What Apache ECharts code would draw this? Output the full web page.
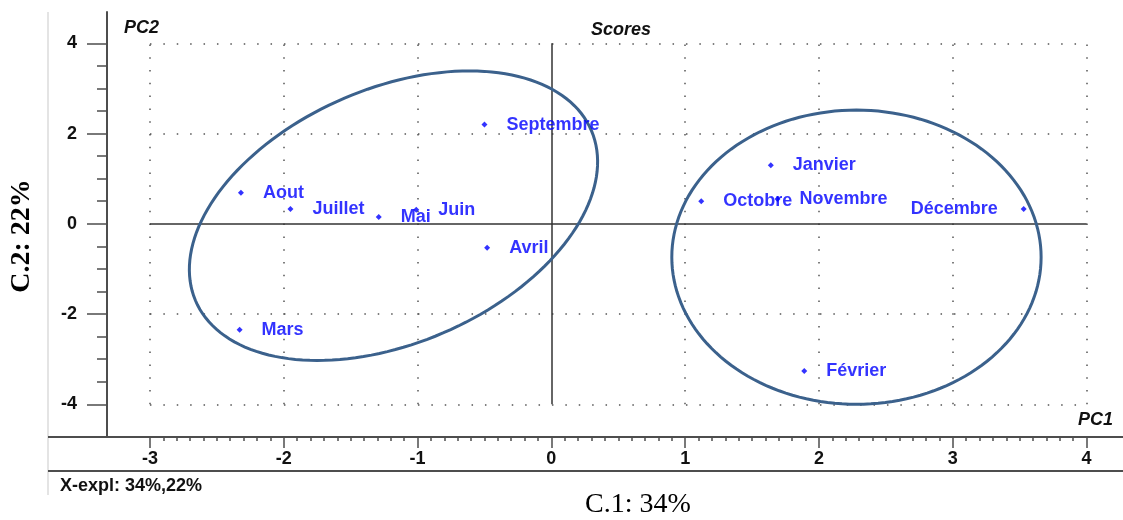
<!DOCTYPE html>
<html>
<head>
<meta charset="utf-8">
<script src="https://cdn.jsdelivr.net/npm/echarts@6/dist/echarts.min.js"></script>
<style>
  html, body { margin: 0; padding: 0; background: #fff; }
  #scoresChart { width: 1123px; height: 520px; }
</style>
</head>
<body>
<div id="scoresChart"></div>
<script>
// Scores des mois sur PC1 / PC2
const months = ['Janvier', 'Février', 'Mars', 'Avril', 'Mai', 'Juin', 'Juillet', 'Aout', 'Septembre', 'Octobre', 'Novembre', 'Décembre'];
const pc1Scores = [1.64, 1.89, -2.33, -0.48, -1.29, -1.01, -1.95, -2.32, -0.50, 1.12, 1.69, 3.53];
const pc2Scores = [1.30, -3.26, -2.35, -0.53, 0.15, 0.31, 0.33, 0.69, 2.20, 0.50, 0.55, 0.33];
const labelSides = ['right', 'right', 'right', 'right', 'right', 'right', 'right', 'right', 'right', 'right', 'right', 'left'];

// axes
const xTickLabels = [-3, -2, -1, 0, 1, 2, 3, 4];
const yTickLabels = [-4, -2, 0, 2, 4];
const yMinorTicks = [-3.5, -3, -2.5, -1.5, -1, -0.5, 0.5, 1, 1.5, 2.5, 3, 3.5];
const xRange = [-3.321, 4.272];
const yRange = [-4.725, 4.694];

// grille pointillée
const gridXLines = [-3, -2, -1, 1, 2, 3, 4];
const gridYLines = [-4, -2, 2, 4];
const gridExtentX = [-3, 4];
const gridExtentY = [-4, 4];

// ellipses de regroupement (centre + demi-axes, unités des scores)
const ellipseCentres = [[-1.18, 0.18], [2.28, -0.74]];
const ellipseAxisU = [[1.48, 1.88], [1.38, 0]];
const ellipseAxisV = [[0.37, -2.60], [0, 3.26]];

const sansFont = '"Liberation Sans", Arial, sans-serif';
const serifFont = '"Liberation Serif", "Times New Roman", serif';
const axisColor = '#4d4d4d';

// ticks secondaires tous les 0.1 sur PC1
const xMinorTicks = [];
for (let i = -29; i <= 39; i++) {
  if (i % 10 !== 0) xMinorTicks.push(i / 10);
}

const chart = echarts.init(document.getElementById('scoresChart'));

const dottedH = { color: '#555', width: 1.5, type: [1.5, 11.9] };
const dottedV = { color: '#555', width: 1.5, type: [1.5, 11.3] };
const solid = { color: '#333', width: 1.5, type: 'solid' };

const gridLineData = [];
gridXLines.forEach((x) => {
  gridLineData.push([{ coord: [x, gridExtentY[0]], lineStyle: dottedV }, { coord: [x, gridExtentY[1]] }]);
});
gridYLines.forEach((y) => {
  gridLineData.push([{ coord: [gridExtentX[0], y], lineStyle: dottedH }, { coord: [gridExtentX[1], y] }]);
});
gridLineData.push([{ coord: [0, gridExtentY[0]], lineStyle: solid }, { coord: [0, gridExtentY[1]] }]);
gridLineData.push([{ coord: [gridExtentX[0], 0], lineStyle: solid }, { coord: [gridExtentX[1], 0] }]);

const scoreData = months.map((name, i) => ({
  name,
  value: [pc1Scores[i], pc2Scores[i]],
  label: { position: labelSides[i], distance: labelSides[i] === 'left' ? 23 : 19 },
}));

const labelStyle = { fontFamily: sansFont, fontWeight: 'bold', fontSize: 18, color: '#111' };

chart.setOption({
  animation: false,
  backgroundColor: '#fff',
  title: {
    text: 'Scores',
    left: 586,
    top: 16,
    textStyle: { fontFamily: sansFont, fontStyle: 'italic', fontWeight: 'bold', fontSize: 18, color: '#111' },
  },
  grid: { left: 107, right: 0, top: 12, bottom: 83 },
  xAxis: [
    {
      type: 'value', min: xRange[0], max: xRange[1], position: 'bottom',
      axisLine: { show: true, onZero: false, lineStyle: { color: axisColor, width: 2 } },
      axisTick: { show: true, customValues: xTickLabels, length: 11, lineStyle: { color: axisColor, width: 1.5 } },
      axisLabel: Object.assign({ customValues: xTickLabels, margin: 13 }, labelStyle),
      splitLine: { show: false },
    },
    {
      type: 'value', min: xRange[0], max: xRange[1], position: 'bottom',
      axisLine: { show: false, onZero: false },
      axisTick: { show: true, customValues: xMinorTicks, length: 4, lineStyle: { color: axisColor, width: 1.5 } },
      axisLabel: { show: false },
      splitLine: { show: false },
    },
  ],
  yAxis: [
    {
      type: 'value', min: yRange[0], max: yRange[1], position: 'left',
      axisLine: { show: true, onZero: false, lineStyle: { color: axisColor, width: 2 } },
      axisTick: { show: true, customValues: yTickLabels, length: 20, lineStyle: { color: axisColor, width: 1.5 } },
      axisLabel: Object.assign({ customValues: yTickLabels, margin: 30 }, labelStyle),
      splitLine: { show: false },
    },
    {
      type: 'value', min: yRange[0], max: yRange[1], position: 'left',
      axisLine: { show: false, onZero: false },
      axisTick: { show: true, customValues: yMinorTicks, length: 10, lineStyle: { color: axisColor, width: 1.5 } },
      axisLabel: { show: false },
      splitLine: { show: false },
    },
  ],
  graphic: [
    { type: 'line', shape: { x1: 48, y1: 12, x2: 48, y2: 495 }, style: { stroke: '#e4e4e4', lineWidth: 2 } },
    { type: 'line', shape: { x1: 48, y1: 437, x2: 108, y2: 437 }, style: { stroke: axisColor, lineWidth: 2 } },
    { type: 'line', shape: { x1: 48, y1: 471, x2: 1123, y2: 471 }, style: { stroke: axisColor, lineWidth: 2 } },
    {
      type: 'text', x: 124, y: 28,
      style: { text: 'PC2', font: 'italic bold 18px ' + sansFont, fill: '#111', textVerticalAlign: 'middle' },
    },
    {
      type: 'text', x: 1113, y: 420,
      style: { text: 'PC1', font: 'italic bold 18px ' + sansFont, fill: '#111', textAlign: 'right', textVerticalAlign: 'middle' },
    },
    {
      type: 'text', x: 60, y: 486,
      style: { text: 'X-expl: 34%,22%', font: 'bold 18px ' + sansFont, fill: '#111', textVerticalAlign: 'middle' },
    },
    {
      type: 'text', x: 638, y: 505,
      style: { text: 'C.1: 34%', font: '28px ' + serifFont, fill: '#000', textAlign: 'center', textVerticalAlign: 'middle' },
    },
    {
      type: 'text', x: 22, y: 236, rotation: Math.PI / 2,
      style: { text: 'C.2: 22%', font: 'bold 28px ' + serifFont, fill: '#000', textAlign: 'center', textVerticalAlign: 'middle' },
    },
  ],
  series: [
    {
      type: 'custom',
      name: 'ellipses',
      xAxisIndex: 0,
      yAxisIndex: 0,
      silent: true,
      z: 3,
      encode: { x: 0, y: 1 },
      data: ellipseCentres,
      renderItem: (params, api) => {
        const i = params.dataIndex;
        const c = ellipseCentres[i];
        const u = ellipseAxisU[i];
        const v = ellipseAxisV[i];
        const points = [];
        for (let k = 0; k <= 160; k++) {
          const t = (k / 160) * Math.PI * 2;
          points.push(api.coord([
            c[0] + u[0] * Math.cos(t) + v[0] * Math.sin(t),
            c[1] + u[1] * Math.cos(t) + v[1] * Math.sin(t),
          ]));
        }
        return {
          type: 'polyline',
          shape: { points },
          style: { stroke: '#3b618c', lineWidth: 3, fill: null },
        };
      },
    },
    {
      type: 'scatter',
      name: 'scores',
      xAxisIndex: 0,
      yAxisIndex: 0,
      z: 4,
      symbol: 'diamond',
      symbolSize: 6,
      itemStyle: { color: '#0000ff' },
      label: {
        show: true,
        formatter: '{b}',
        fontFamily: sansFont,
        fontWeight: 'bold',
        fontSize: 18,
        color: '#0000ff',
      },
      data: scoreData,
      markLine: {
        silent: true,
        symbol: 'none',
        label: { show: false },
        z: 2,
        data: gridLineData,
      },
    },
  ],
});
</script>
</body>
</html>
